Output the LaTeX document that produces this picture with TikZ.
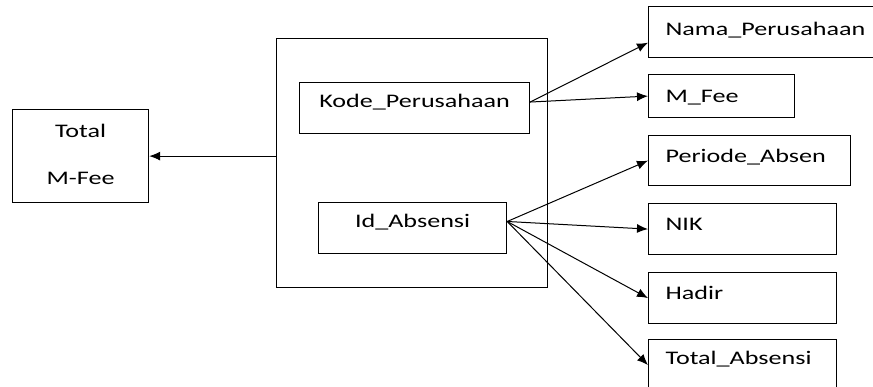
\documentclass[tikz,border=0pt]{standalone}
\usepackage{fontspec}
\usepackage{tikz}
\usetikzlibrary{arrows.meta}
\newfontfamily\boxfont[FakeStretch=1.36]{Carlito}
\tikzset{
    entity/.style = {draw, line width=1.2pt, rectangle, anchor=north west, inner ysep=12pt, text height=15pt, text depth=12pt, font=\boxfont\fontsize{19.2pt}{23pt}\selectfont},
    entity-left/.style = {entity, align=left, inner xsep=17pt},
    group-box/.style = {draw, line width=1.2pt, rectangle, anchor=north west, inner sep=0pt},
    link/.style = {-{Latex[length=11pt,width=9pt]}, line width=1pt},
}

\begin{document}
\begin{tikzpicture}[x=1pt,y=-1pt]
\clip (0,0) rectangle (873,387);
\node [entity, align=center, minimum width=136pt, text height=63pt, text depth=6pt] (total) at (12,109) {Total\\[24pt]M-Fee};
\node [group-box, minimum width=271pt, minimum height=249pt] (group) at (276,38) {};
\node [entity, minimum width=230pt, text height=13pt, text depth=14pt] (kode) at (299,82) {Kode\_Perusahaan};
\node [entity, minimum width=188pt, text height=13pt, text depth=14pt] (id) at (318,202) {Id\_Absensi};
% attribute boxes on the right
\node [entity-left, text width=206pt, text height=17pt, text depth=10pt] (nama) at (648,6) {Nama\_Perusahaan};
\node [entity-left, text width=112pt, text height=16pt, text depth=3pt] (mfee) at (648,74) {M\_Fee};
\node [entity-left, text width=168pt, text height=15pt, text depth=11pt] (periode) at (648,135) {Periode\_Absen};
\node [entity-left, text width=154pt] (nik) at (648,203) {NIK};
\node [entity-left, text width=154pt] (hadir) at (648,272) {Hadir};
\node [entity-left, text width=154pt, text height=13pt, text depth=14pt] (totalabs) at (648,339) {Total\_Absensi};
\draw [link] (group.west |- total.east) -- (total.east);
\draw [link] (kode.3) -- (nama.185);
\draw [link] (kode.3) -- (mfee.west);
\draw [link] (id.4) -- (periode.west);
\draw [link] (id.4) -- (nik.west);
\draw [link] (id.4) -- (hadir.west);
\draw [link] (id.4) -- (totalabs.west);
\end{tikzpicture}
\end{document}
